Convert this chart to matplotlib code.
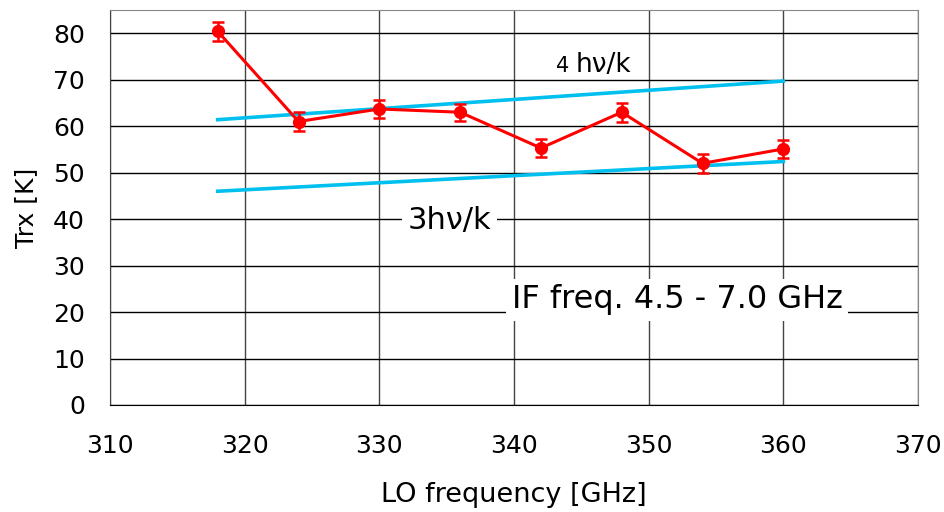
import matplotlib

matplotlib.use("Agg")
import matplotlib.pyplot as plt

plt.rcParams["font.family"] = ["DejaVu Sans"]

# measured receiver noise temperature
lo_freq = [318, 324, 330, 336, 342, 348, 354, 360]
trx = [80.4, 61.0, 63.7, 63.0, 55.3, 63.0, 52.0, 55.1]
trx_err = [2.0, 2.0, 2.0, 1.8, 2.0, 2.0, 2.0, 2.0]

# quantum limit reference lines
ql_freq = [318, 360]
ql4 = [61.4, 69.7]
ql3 = [46.0, 52.4]

fig = plt.figure(figsize=(9.44, 5.12), dpi=100)
ax = fig.add_axes([110 / 944, 1 - 405 / 512, 808 / 944, 395 / 512])

ax.plot(ql_freq, ql4, color="#00c0f0", linewidth=2.6, zorder=3)
ax.plot(ql_freq, ql3, color="#00c0f0", linewidth=2.6, zorder=3)
ax.errorbar(lo_freq, trx, yerr=trx_err, color="#ff0000", linewidth=2.2,
            marker="o", markersize=8.5, elinewidth=1.8, capsize=4, capthick=1.8,
            zorder=4)

ax.set_xlim(310, 370)
ax.set_ylim(0, 85)
ax.set_xticks(range(310, 371, 10))
ax.set_yticks(range(0, 81, 10))
ax.tick_params(length=0, labelsize=18)
ax.tick_params(axis="x", pad=21)
ax.tick_params(axis="y", pad=18)
ax.grid(axis="y", color="black", linewidth=1.0, zorder=1)
ax.grid(axis="x", color="#444444", linewidth=1.0, zorder=1)
ax.set_axisbelow(True)
for side in ("top", "right"):
    ax.spines[side].set_color("#888888")
ax.spines["left"].set_color("#444444")
ax.spines["bottom"].set_color("black")

ax.set_xlabel("LO frequency [GHz]", fontsize=19.5, labelpad=17)
ax.set_ylabel("Trx [K]", fontsize=18, labelpad=11)

box = dict(facecolor="white", edgecolor="none", pad=4)
ax.text(343.1, 71.7, "4", fontsize=15, ha="left", va="baseline")
ax.text(344.6, 71.7, "hν/k", fontsize=19, ha="left", va="baseline")
ax.text(335.2, 39.8, "3hν/k", fontsize=22, ha="center", va="center",
        bbox=box, zorder=5)
ax.text(352.1, 22.6, "IF freq. 4.5 - 7.0 GHz", fontsize=23, ha="center",
        va="center", bbox=box, zorder=5)

fig.savefig("out.png", dpi=100)
